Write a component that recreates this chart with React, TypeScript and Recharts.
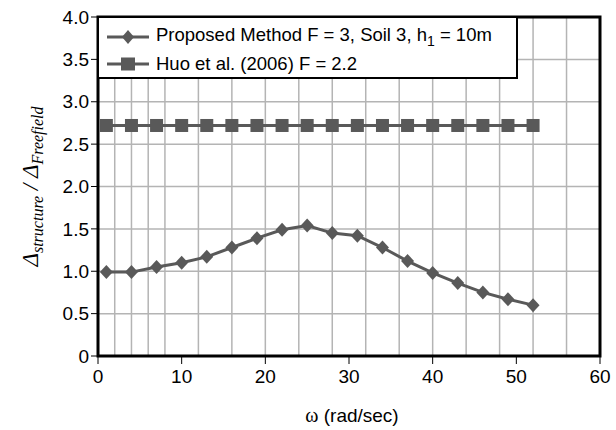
import { LineChart, Line, XAxis, YAxis, CartesianGrid, Legend, ReferenceArea } from "recharts";

// omega (rad/sec) sample points
const omega = [1, 4, 7, 10, 13, 16, 19, 22, 25, 28, 31, 34, 37, 40, 43, 46, 49, 52];
// Proposed Method F = 3, Soil 3, h1 = 10m
const proposed = [0.99, 0.99, 1.05, 1.1, 1.17, 1.28, 1.39, 1.49, 1.54, 1.45, 1.42, 1.28, 1.12, 0.98, 0.86, 0.75, 0.67, 0.6];
// Huo et al. (2006) F = 2.2
const huo = [2.72, 2.72, 2.72, 2.72, 2.72, 2.72, 2.72, 2.72, 2.72, 2.72, 2.72, 2.72, 2.72, 2.72, 2.72, 2.72, 2.72, 2.72];

const xTicks = [0, 10, 20, 30, 40, 50, 60];
const yTicks = [0, 0.5, 1, 1.5, 2, 2.5, 3, 3.5, 4];
const xGrid = [0, 2, 4, 6, 8, 10, 12, 14, 16, 18, 20, 22, 24, 26, 28, 30, 32, 34, 36, 38, 40, 42, 44, 46, 48, 50, 52, 54, 56, 58, 60];

const data = omega.map((w, i) => ({ omega: w, proposed: proposed[i], huo: huo[i] }));

const SERIES = "#595959";
const SANS = "'Liberation Sans', Arial, sans-serif";
const SERIF = "'Liberation Serif', 'Times New Roman', serif";

const Diamond = ({ cx, cy }: any) => {
  if (cx == null || cy == null) return null;
  return <polygon points={`${cx},${cy - 7} ${cx + 6.5},${cy} ${cx},${cy + 7} ${cx - 6.5},${cy}`} fill={SERIES} />;
};

const Square = ({ cx, cy }: any) => {
  if (cx == null || cy == null) return null;
  return <rect x={cx - 6.5} y={cy - 6.5} width={13} height={13} fill={SERIES} />;
};

const LegendIcon = ({ kind }: { kind: "diamond" | "square" }) => (
  <svg width={42} height={16} style={{ display: "block", flexShrink: 0 }}>
    <line x1={0} y1={8} x2={42} y2={8} stroke={SERIES} strokeWidth={3} />
    {kind === "diamond" ? (
      <polygon points="21,1 27,8 21,15 15,8" fill={SERIES} />
    ) : (
      <rect x={14} y={1.5} width={14} height={13} fill={SERIES} />
    )}
  </svg>
);

const renderLegend = () => (
  <div
    style={{
      background: "#fff",
      border: "2px solid #000",
      width: 421,
      height: 63,
      boxSizing: "border-box",
      padding: "5px 0 0 8px",
      fontFamily: SANS,
      fontSize: 18.5,
      color: "#000",
    }}
  >
    <div style={{ display: "flex", alignItems: "center", height: 27 }}>
      <LegendIcon kind="diamond" />
      <span style={{ marginLeft: 7, whiteSpace: "nowrap" }}>
        Proposed Method F = 3, Soil 3, h<sub style={{ fontSize: 14 }}>1</sub> = 10m
      </span>
    </div>
    <div style={{ display: "flex", alignItems: "center", height: 27 }}>
      <LegendIcon kind="square" />
      <span style={{ marginLeft: 7, whiteSpace: "nowrap" }}>Huo et al. (2006) F = 2.2</span>
    </div>
  </div>
);

const YLabel = ({ viewBox }: any) => {
  const cx = 38;
  const cy = viewBox.y + viewBox.height / 2;
  return (
    <text transform={`translate(${cx},${cy}) rotate(-90)`} textAnchor="middle" fontFamily={SERIF} fontStyle="italic" fill="#000">
      <tspan fontSize={23}>Δ</tspan>
      <tspan fontSize={16} dy={5}>structure</tspan>
      <tspan fontSize={23} dy={-5}> / Δ</tspan>
      <tspan fontSize={16} dy={5}>Freefield</tspan>
    </text>
  );
};

const XLabel = ({ viewBox }: any) => {
  const cx = viewBox.x + viewBox.width / 2 + 3;
  return (
    <text x={cx} y={422} textAnchor="middle" fontSize={19} fill="#000" fontFamily={SANS}>
      <tspan fontFamily={SERIF} fontSize={20}>ω</tspan>
      <tspan> (rad/sec)</tspan>
    </text>
  );
};

export default function App() {
  return (
    <div style={{ position: "absolute", left: 0, top: 0, width: 616, height: 430, background: "#fff" }}>
      <LineChart width={616} height={430} data={data} margin={{ top: 17, right: 16, bottom: 0, left: 0 }}>
        <CartesianGrid stroke="#b4b4b4" strokeWidth={1.5} verticalValues={xGrid} horizontalValues={yTicks} />
        <XAxis
          dataKey="omega"
          type="number"
          domain={[0, 60]}
          ticks={xTicks}
          height={74}
          axisLine={false}
          tickLine={{ stroke: "#000" }}
          tickSize={8}
          tickMargin={6}
          tick={{ fill: "#000", fontSize: 19, fontFamily: SANS }}
          label={<XLabel />}
        />
        <YAxis
          type="number"
          domain={[0, 4]}
          ticks={yTicks}
          width={98}
          axisLine={false}
          tickLine={{ stroke: "#000" }}
          tickSize={7}
          tickMargin={2}
          tick={{ fill: "#000", fontSize: 19, fontFamily: SANS }}
          tickFormatter={(v: number) => (v === 0 ? "0" : v.toFixed(1))}
          label={<YLabel />}
        />
        <ReferenceArea x1={0} x2={60} y1={0} y2={4} fill="none" stroke="#000" strokeWidth={3} fillOpacity={0} />
        <Line dataKey="proposed" stroke={SERIES} strokeWidth={3} dot={<Diamond />} isAnimationActive={false} />
        <Line dataKey="huo" stroke={SERIES} strokeWidth={3} dot={<Square />} isAnimationActive={false} />
        <Legend
          layout="vertical"
          align="center"
          verticalAlign="middle"
          content={renderLegend}
          wrapperStyle={{ position: "absolute", left: 97, top: 16, width: "auto" }}
        />
      </LineChart>
    </div>
  );
}
